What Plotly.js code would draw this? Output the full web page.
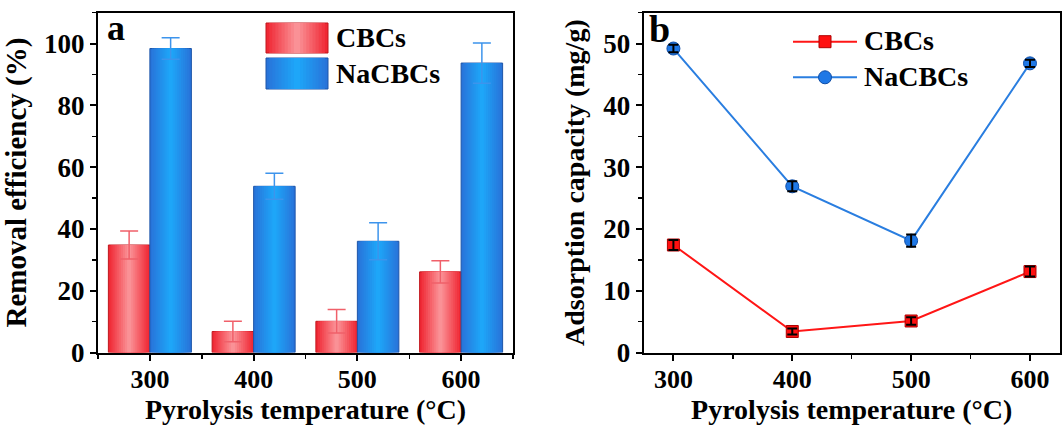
<!DOCTYPE html>
<html>
<head>
<meta charset="utf-8">
<script src="https://cdn.plot.ly/plotly-3.0.1.min.js"></script>
<style>
html,body{margin:0;padding:0;background:#fff;}
#chart{width:1062px;height:425px;}
</style>
</head>
<body>
<div id="chart"></div>
<script>
// ---- data ----
var temperatures = [300, 400, 500, 600];
var removalCBCs = [34.8, 6.8, 10.1, 26.1];
var removalCBCsErr = [4.5, 3.3, 3.8, 3.6];
var removalNaCBCs = [98.4, 53.8, 36.0, 93.7];
var removalNaCBCsErr = [3.5, 4.2, 6.0, 6.5];
var adsorbCBCs = [17.4, 3.4, 5.1, 13.1];
var adsorbCBCsErr = [0.8, 0.5, 0.6, 0.8];
var adsorbNaCBCs = [49.2, 26.9, 18.1, 46.8];
var adsorbNaCBCsErr = [0.6, 0.8, 1.0, 0.6];
var seriesNames = ['CBCs', 'NaCBCs'];
var xTitle = 'Pyrolysis temperature (°C)';
var yTitleA = 'Removal efficiency (%)';
var yTitleB = 'Adsorption capacity (mg/g)';

// ---- styles ----
var W = 1062, H = 425;
var FONT = 'Liberation Serif, Times New Roman, serif';
function px(x){return x / W;}
function py(y){return 1 - y / H;}

// colour-gradient imitation: stacked bars, each narrower and lighter (style only)
var NL = 10;
function mix(c1, c2, t){
  var r = Math.round(c1[0] + (c2[0]-c1[0])*t), g = Math.round(c1[1] + (c2[1]-c1[1])*t), b = Math.round(c1[2] + (c2[2]-c1[2])*t);
  return 'rgb(' + r + ',' + g + ',' + b + ')';
}
var redEdge = [240, 40, 52], redMid = [250, 145, 150];
var blueEdge = [40, 116, 218], blueMid = [30, 166, 248];

var traces = [];
function addBars(yv, err, edge, mid, errColor, lineColor, side){
  for (var i = 0; i < NL; i++) {
    var w = 40 * (1 - i / NL);
    var last = (i === NL - 1);
    var col = mix(edge, mid, i / (NL - 1));
    var t = {type:'bar', x:temperatures, y:yv, xaxis:'x', yaxis:'y',
      width:w, offset: side * 40 + (40 - w) / 2,
      marker:{color:col, line:{color: i === 0 ? lineColor : col, width: i === 0 ? 1 : 0}},
      showlegend:false, hoverinfo:'skip'};
    if (last) t.error_y = {type:'data', array:err, color:errColor, thickness:1.5, width:9};
    traces.push(t);
  }
}
addBars(removalCBCs, removalCBCsErr, redEdge, redMid, '#f0606a', '#c0171d', -1);
addBars(removalNaCBCs, removalNaCBCsErr, blueEdge, blueMid, '#3d94ec', '#1d55a8', 0);

traces.push(
  {type:'scatter', mode:'lines+markers', x:temperatures, y:adsorbCBCs, name:seriesNames[0],
   xaxis:'x2', yaxis:'y2',
   line:{color:'#ff1616', width:2},
   marker:{symbol:'square', size:12, color:'#ff1010', line:{color:'#b00000', width:1}},
   showlegend:false},
  {type:'scatter', mode:'lines+markers', x:temperatures, y:adsorbNaCBCs, name:seriesNames[1],
   xaxis:'x2', yaxis:'y2',
   line:{color:'#2a7ee0', width:2},
   marker:{symbol:'circle', size:13, color:'#1f78e6', line:{color:'#0f4ea8', width:1}},
   showlegend:false},
  // error bars drawn on top of the markers
  {type:'scatter', mode:'markers', x:temperatures, y:adsorbCBCs, xaxis:'x2', yaxis:'y2',
   marker:{size:1, opacity:0},
   error_y:{type:'data', array:adsorbCBCsErr, color:'#000', thickness:2, width:5},
   showlegend:false, hoverinfo:'skip'},
  {type:'scatter', mode:'markers', x:temperatures, y:adsorbNaCBCs, xaxis:'x2', yaxis:'y2',
   marker:{size:1, opacity:0},
   error_y:{type:'data', array:adsorbNaCBCsErr, color:'#000', thickness:2, width:5},
   showlegend:false, hoverinfo:'skip'}
);

var axisCommon = {
  showline:true, linecolor:'#000', linewidth:2, mirror:true,
  ticks:'outside', ticklen:6, tickwidth:2, tickcolor:'#000',
  showgrid:false, zeroline:false,
  tickfont:{family:FONT, size:26, color:'#000', weight:'bold'}
};
function ax(extra){ return Object.assign({}, JSON.parse(JSON.stringify(axisCommon)), extra); }

var yDom = [py(352.5), py(12.7)];
var titleFont = {family:FONT, size:28, color:'#000', weight:'bold'};

// legend boxes with the same gradient imitation
var shapes = [];
function legendBox(y0, y1, edge, mid, lineColor){
  var x0 = 266, x1 = 328, wd = x1 - x0;
  for (var i = 0; i < NL; i++) {
    var w = wd * (1 - i / NL);
    var col = mix(edge, mid, i / (NL - 1));
    shapes.push({type:'rect', xref:'paper', yref:'paper',
      x0:px(x0 + (wd - w) / 2), x1:px(x0 + (wd + w) / 2), y0:py(y1), y1:py(y0),
      fillcolor:col, line:{color: i === 0 ? lineColor : col, width: i === 0 ? 1 : 0}});
  }
}
legendBox(23, 53, redEdge, redMid, '#c0171d');
legendBox(58, 89, blueEdge, blueMid, '#1d55a8');
shapes.push(
  {type:'line', xref:'paper', yref:'paper', x0:px(793), x1:px(857), y0:py(41.7), y1:py(41.7),
   line:{color:'#ff1616', width:2}},
  {type:'rect', xref:'paper', yref:'paper', x0:px(819), x1:px(831), y0:py(47.7), y1:py(35.7),
   fillcolor:'#ff1010', line:{color:'#b00000', width:1}},
  {type:'line', xref:'paper', yref:'paper', x0:px(793), x1:px(857), y0:py(77.3), y1:py(77.3),
   line:{color:'#2a7ee0', width:2}},
  {type:'circle', xref:'paper', yref:'paper', x0:px(818.5), x1:px(831.5), y0:py(83.8), y1:py(70.8),
   fillcolor:'#1f78e6', line:{color:'#0f4ea8', width:1}}
);

var layout = {
  width:W, height:H,
  margin:{l:0, r:0, t:0, b:0},
  paper_bgcolor:'#fff', plot_bgcolor:'#fff',
  font:{family:FONT, color:'#000', weight:'bold'},
  showlegend:false,
  barmode:'overlay',
  xaxis: ax({domain:[px(98), px(513)], range:[250, 650], tickvals:temperatures,
    ticklabelstandoff:-4,
    minor:{dtick:50, tick0:250, ticks:'outside', ticklen:4, tickwidth:1.5, tickcolor:'#000'},
    title:{text:xTitle, font:titleFont, standoff:10},
    anchor:'y'}),
  yaxis: ax({domain:yDom, range:[0, 110], dtick:20, tick0:0,
    minor:{dtick:10, ticks:'outside', ticklen:4, tickwidth:1.5, tickcolor:'#000'},
    title:{text:yTitleA, font:{family:FONT, size:29, color:'#000', weight:'bold'}, standoff:12},
    tickfont:{family:FONT, size:27, color:'#000', weight:'bold'},
    anchor:'x'}),
  xaxis2: ax({domain:[px(643.7), px(1059.7)], range:[275, 625], tickvals:temperatures,
    ticklabelstandoff:-4,
    minor:{dtick:50, tick0:250, ticks:'outside', ticklen:4, tickwidth:1.5, tickcolor:'#000'},
    title:{text:xTitle, font:titleFont, standoff:10},
    anchor:'y2'}),
  yaxis2: ax({domain:yDom, range:[0, 55], dtick:10, tick0:0,
    minor:{dtick:5, ticks:'outside', ticklen:4, tickwidth:1.5, tickcolor:'#000'},
    title:{text:yTitleB, font:titleFont, standoff:10},
    tickfont:{family:FONT, size:27, color:'#000', weight:'bold'},
    anchor:'x2'}),
  shapes: shapes,
  annotations:[
    {text:'a', xref:'paper', yref:'paper', x:px(105), y:py(6), xanchor:'left', yanchor:'top',
     showarrow:false, font:{family:FONT, size:36, color:'#000', weight:'bold'}},
    {text:'b', xref:'paper', yref:'paper', x:px(647), y:py(6), xanchor:'left', yanchor:'top',
     showarrow:false, font:{family:FONT, size:38, color:'#000', weight:'bold'}},
    {text:seriesNames[0], xref:'paper', yref:'paper', x:px(334), y:py(38), xanchor:'left', yanchor:'middle',
     showarrow:false, font:{family:FONT, size:28, color:'#000', weight:'bold'}},
    {text:seriesNames[1], xref:'paper', yref:'paper', x:px(334), y:py(74), xanchor:'left', yanchor:'middle',
     showarrow:false, font:{family:FONT, size:28, color:'#000', weight:'bold'}},
    {text:seriesNames[0], xref:'paper', yref:'paper', x:px(862), y:py(41), xanchor:'left', yanchor:'middle',
     showarrow:false, font:{family:FONT, size:28, color:'#000', weight:'bold'}},
    {text:seriesNames[1], xref:'paper', yref:'paper', x:px(862), y:py(77), xanchor:'left', yanchor:'middle',
     showarrow:false, font:{family:FONT, size:28, color:'#000', weight:'bold'}}
  ]
};

Plotly.newPlot('chart', traces, layout, {displayModeBar:false, staticPlot:true});
</script>
</body>
</html>
